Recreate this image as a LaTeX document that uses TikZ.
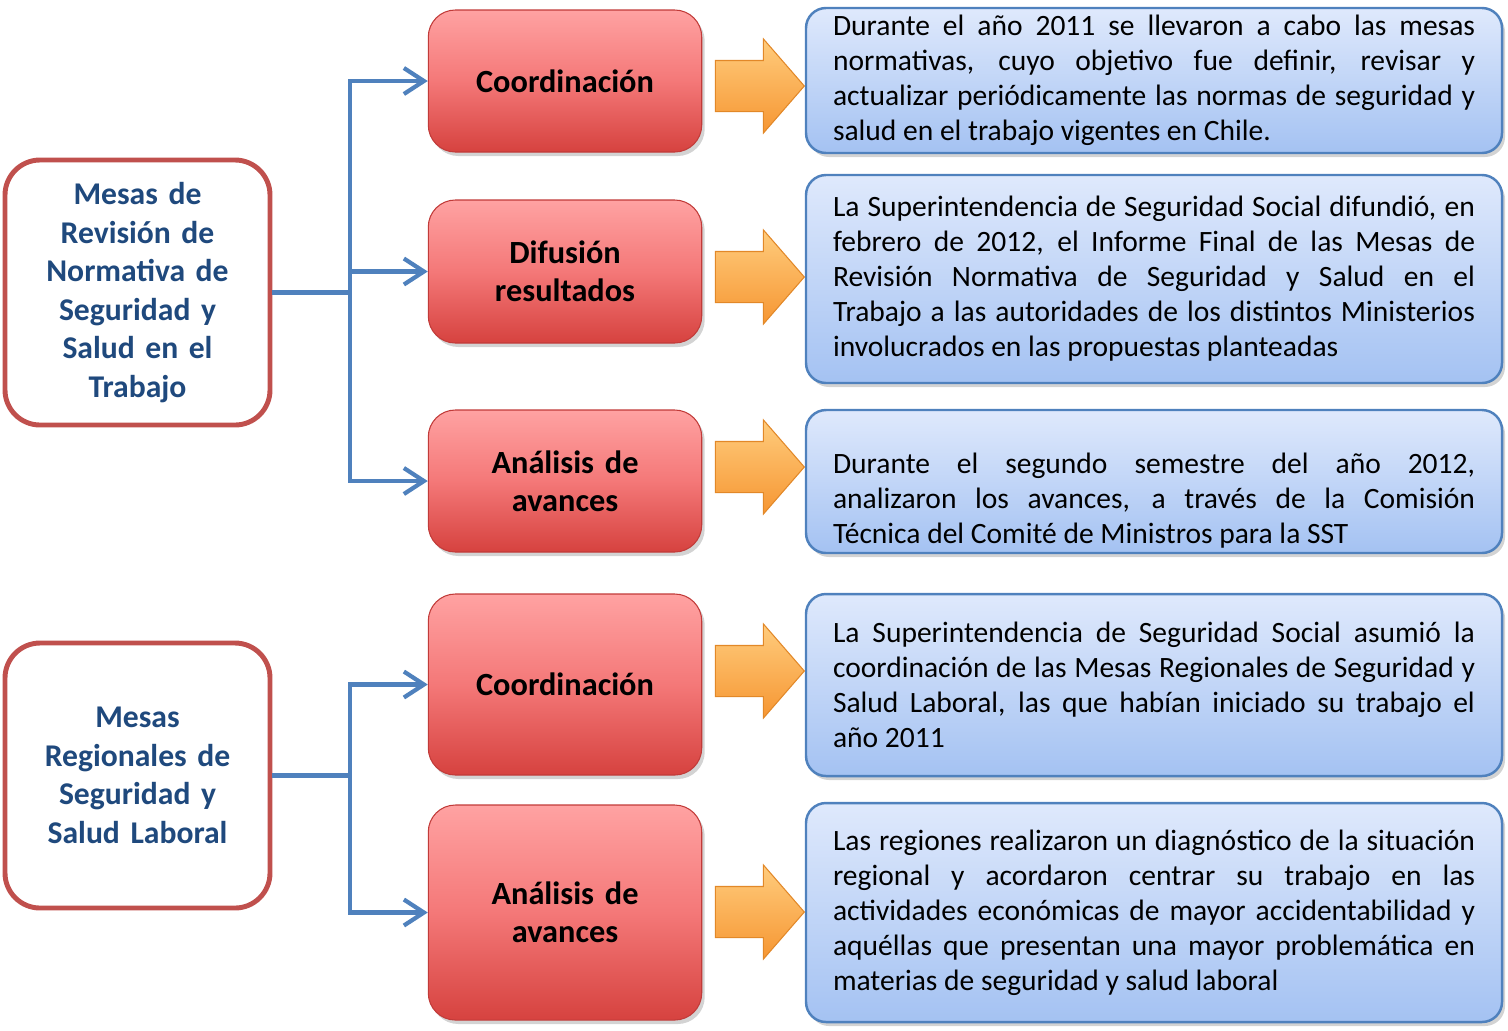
\documentclass[tikz,border=0pt]{standalone}
\usepackage{fontspec}
\setmainfont{Carlito}
\usepackage{tikz}
\usetikzlibrary{arrows.meta, positioning, shapes.arrows, shadows}
\definecolor{titleblue}{RGB}{31,73,125}
\definecolor{framered}{RGB}{192,80,77}
\definecolor{linkblue}{RGB}{79,129,189}
\definecolor{lightred}{RGB}{255,162,162}
\definecolor{midred}{RGB}{244,120,120}
\definecolor{darkred}{RGB}{214,66,63}
\definecolor{lightblue}{RGB}{223,233,252}
\definecolor{deepblue}{RGB}{164,194,242}
\definecolor{lightorange}{RGB}{255,204,125}
\definecolor{darkorange}{RGB}{246,150,50}
\definecolor{edgeorange}{RGB}{226,136,40}

\begin{document}
\begin{tikzpicture}
    % Define styles
    \tikzstyle{topic} = [rectangle, rounded corners=0.35cm, draw=framered,
                          line width=1.4pt, fill=white, text=titleblue,
                          font=\fontsize{9.0}{10.95}\selectfont\bfseries,
                          text width=2.3cm, align=center,
                          minimum width=2.65cm, minimum height=2.65cm]
    \tikzstyle{phase} = [rectangle, rounded corners=0.27cm, draw=darkred!90!black,
                          line width=0.3pt, top color=lightred, bottom color=darkred,
                          middle color=midred,
                          drop shadow={opacity=0.35, shadow xshift=0.03cm, shadow yshift=-0.04cm},
                          font=\fontsize{9.2}{10.95}\selectfont\bfseries,
                          text width=2.5cm, align=center, minimum width=2.7cm]
    \tikzstyle{detail} = [rectangle, rounded corners=0.2cm, draw=linkblue,
                          line width=0.7pt, top color=lightblue, bottom color=deepblue,
                          drop shadow={opacity=0.35, shadow xshift=0.03cm, shadow yshift=-0.04cm},
                          font=\fontsize{8.4}{9.96}\selectfont, inner ysep=0.02cm,
                          text width=6.42cm, align=justify, minimum width=6.96cm]
    \tikzstyle{fatarrow} = [single arrow, draw=edgeorange, line width=0.3pt,
                          top color=lightorange, bottom color=darkorange,
                          single arrow head extend=0.215cm, single arrow tip angle=98,
                          inner xsep=0pt, inner ysep=0.25cm, minimum height=0.89cm,
                          anchor=tip]
    \tikzstyle{link} = [linkblue, line width=1.4pt]
    \tikzstyle{arrow} = [link, -{Straight Barb[length=0.2cm, width=0.26cm, line width=1.2pt]}]

    \useasboundingbox (0,0) rectangle (15.08,-10.30);
    \tolerance=9999

    % Create blocks
    \node[topic] (mesasrev) at (1.375,-2.925) {Mesas de\\Revisión de\\Normativa de\\Seguridad y\\Salud en el\\Trabajo};
    \node[topic] (mesasreg) at (1.375,-7.755) {Mesas\\Regionales de\\Seguridad y\\Salud Laboral};

    \node[phase, minimum height=1.42cm] (coord1) at (5.65,-0.81) {Coordinación};
    \node[phase, minimum height=1.43cm] (difusion) at (5.65,-2.715) {Difusión\\resultados};
    \node[phase, minimum height=1.42cm] (analisis1) at (5.65,-4.81) {Análisis de\\avances};
    \node[phase, minimum height=1.81cm] (coord2) at (5.65,-6.845) {Coordinación};
    \node[phase, minimum height=2.15cm] (analisis2) at (5.65,-9.125) {Análisis de\\avances};

    \node[detail, minimum height=1.45cm] (desc1) at (11.54,-0.805) {Durante el año 2011 se llevaron a cabo las mesas\linebreak
        normativas, cuyo objetivo fue definir, revisar y\linebreak
        actualizar periódicamente las normas de seguridad y\linebreak
        salud en el trabajo vigentes en Chile.};
    \node[detail, minimum height=2.08cm] (desc2) at (11.54,-2.79) {La Superintendencia de Seguridad Social difundió, en\linebreak
        febrero de 2012, el Informe Final de las Mesas de\linebreak
        Revisión Normativa de Seguridad y Salud en el\linebreak
        Trabajo a las autoridades de los distintos Ministerios\linebreak
        involucrados en las propuestas planteadas};
    \node[detail, minimum height=1.43cm] (desc3) at (11.54,-4.815) {\strut\\
        Durante el segundo semestre del año 2012,\linebreak
        analizaron los avances, a través de la Comisión\linebreak
        Técnica del Comité de Ministros para la SST};
    \node[detail, minimum height=1.82cm] (desc4) at (11.54,-6.85) {La Superintendencia de Seguridad Social asumió la\linebreak
        coordinación de las Mesas Regionales de Seguridad y\linebreak
        Salud Laboral, las que habían iniciado su trabajo el\linebreak
        año 2011};
    \node[detail, minimum height=2.19cm] (desc5) at (11.54,-9.125) {Las regiones realizaron un diagnóstico de la situación\linebreak
        regional y acordaron centrar su trabajo en las\linebreak
        actividades económicas de mayor accidentabilidad y\linebreak
        aquéllas que presentan una mayor problemática en\linebreak
        materias de seguridad y salud laboral};

    % Orange arrows
    \node[fatarrow] (step1) at (8.05,-0.86) {};
    \node[fatarrow] (step2) at (8.05,-2.77) {};
    \node[fatarrow] (step3) at (8.05,-4.67) {};
    \node[fatarrow] (step4) at (8.05,-6.71) {};
    \node[fatarrow] (step5) at (8.05,-9.12) {};

    % Draw arrows
    \coordinate (hub1) at (3.5,-2.925);
    \coordinate (hub2) at (3.5,-7.755);
    \draw[link] (mesasrev.east) -- (hub1);
    \draw[arrow] (hub1) |- (coord1.west);
    \draw[arrow] (hub1) |- (difusion.west);
    \draw[arrow] (hub1) |- (analisis1.west);
    \draw[link] (mesasreg.east) -- (hub2);
    \draw[arrow] (hub2) |- (coord2.west);
    \draw[arrow] (hub2) |- (analisis2.west);
\end{tikzpicture}
\end{document}
